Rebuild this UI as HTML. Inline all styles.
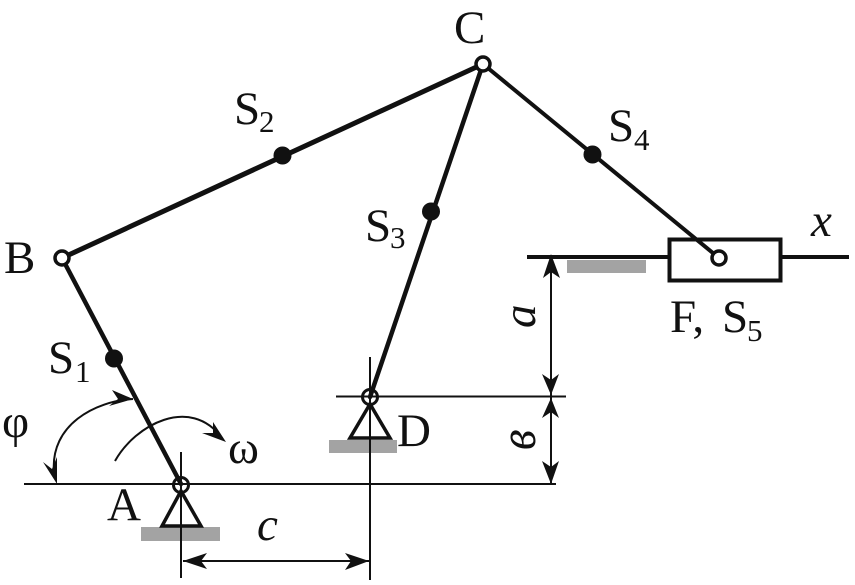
<!DOCTYPE html>
<html>
<head>
<meta charset="utf-8">
<style>
html,body{margin:0;padding:0;background:#fff;width:855px;height:585px;overflow:hidden}
svg{display:block}
text{font-family:"Liberation Serif",serif;fill:#111}
.m{font-size:47px}
.s{font-size:31px}
.i{font-style:italic}
</style>
</head>
<body>
<svg width="855" height="585" viewBox="0 0 855 585" xmlns="http://www.w3.org/2000/svg">
<rect x="141" y="527" width="79" height="14" fill="#a3a3a3"/>
<rect x="329" y="440" width="68" height="13" fill="#a3a3a3"/>
<rect x="567" y="260" width="79" height="13" fill="#a3a3a3"/>
<g stroke="#111" stroke-width="2" fill="none">
<path d="M24 484H556M336 396.500H566M181 452V578M370 357V580M183 561H369M551 258V484"/>
<path d="M133 399C95 401 50 425 54 472"/>
<path d="M115 461C135 425 190 395 222 438"/>
</g>
<g fill="#111">
<path d="M133 399L112 390L118 399L109 406Z"/>
<path d="M57 484L43 462L52 469L57 457Z"/>
<path d="M226 442L213 422L213 433L202 433Z"/>
<path d="M551 254L543 278L551 272L560 278Z"/>
<path d="M551 395L542 374L551 380L559 374Z"/>
<path d="M551 398L542 418L551 412L559 418Z"/>
<path d="M551 484L542 461L551 467L559 461Z"/>
<path d="M183 561L207 553L201 561L207 569Z"/>
<path d="M369 561L345 553L351 561L345 570Z"/>
</g>
<g stroke="#111" stroke-width="3.500" fill="none">
<path d="M181 491L162 526H201Z"/>
<path d="M370 404L350 438H390Z"/>
</g>
<g stroke="#111" stroke-width="4" fill="none">
<path d="M527 257H669M781 257H849"/>
<rect x="669.500" y="239.500" width="111" height="41"/>
</g>
<g stroke="#111" fill="none" stroke-linecap="round">
<path d="M62 258L181 484" stroke-width="4.500"/>
<path d="M62 258L483 64" stroke-width="5"/>
<path d="M483 64L370 397" stroke-width="4.500"/>
<path d="M483 64L719 258" stroke-width="4"/>
</g>
<g fill="#111">
<circle cx="114" cy="358.500" r="9"/>
<circle cx="282.500" cy="155.500" r="9"/>
<circle cx="431" cy="211.500" r="9"/>
<circle cx="592.500" cy="154.500" r="9"/>
</g>
<g stroke="#111" stroke-width="3.500" fill="#fff">
<circle cx="62" cy="258" r="7"/>
<circle cx="483" cy="64" r="7"/>
<circle cx="719" cy="258" r="7"/>
</g>
<g stroke="#111" stroke-width="3" fill="none">
<circle cx="181" cy="485" r="7.500"/>
<circle cx="370" cy="397" r="7.500"/>
</g>
<text class="m" x="4" y="273">B</text>
<text class="m" x="454" y="43">C</text>
<text class="m" x="397" y="446">D</text>
<text class="m" x="107" y="520">A</text>
<text class="m" x="234" y="124">S</text><text class="s" x="259" y="132">2</text>
<text class="m" x="48" y="373">S</text><text class="s" x="75" y="382">1</text>
<text class="m" x="365" y="241">S</text><text class="s" x="390" y="248">3</text>
<text class="m" x="608" y="141">S</text><text class="s" x="634" y="150">4</text>
<text class="m" x="670" y="332">F,</text><text class="m" x="722" y="332">S</text><text class="s" x="747" y="341">5</text>
<text class="m" x="2" y="437">φ</text>
<text class="m" x="228" y="463">ω</text>
<text class="m i" x="257" y="540">c</text>
<text class="m i" x="811" y="236">x</text>
<text class="m i" transform="translate(535 328) rotate(-90)">a</text>
<text class="m i" transform="translate(535 450) rotate(-90) scale(1,1.1)">в</text>
</svg>
</body>
</html>
